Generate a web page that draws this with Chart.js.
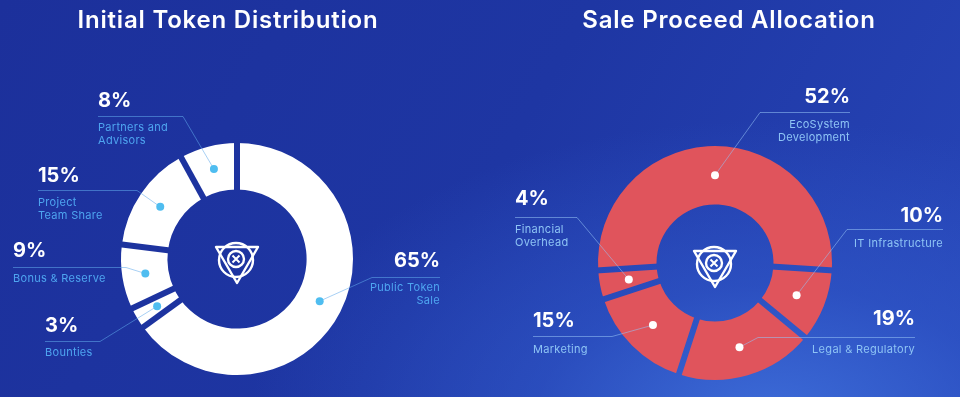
<!DOCTYPE html>
<html>
<head>
<meta charset="utf-8">
<script src="https://cdn.jsdelivr.net/npm/chart.js@4.4.0/dist/chart.umd.min.js"></script>
<style>
  html, body { margin: 0; padding: 0; }
  body {
    width: 960px; height: 397px; overflow: hidden; position: relative;
    background:
      radial-gradient(ellipse 520px 300px at 770px 420px, rgba(62,110,218,0.95) 0%, rgba(50,92,206,0.55) 45%, rgba(30,52,160,0) 100%),
      linear-gradient(120deg, #1c309b 0%, #1e36a3 50%, #2746b8 100%);
  }
  canvas { position: absolute; top: 0; }
  #tokenChart { left: 0; }
  #saleChart { left: 480px; }
</style>
</head>
<body>
<canvas id="tokenChart" width="480" height="397"></canvas>
<canvas id="saleChart" width="480" height="397"></canvas>
<script>
// data
const tokenLabels = [['Public Token', 'Sale'], ['Bounties'], ['Bonus & Reserve'], ['Project', 'Team Share'], ['Partners and', 'Advisors']];
const tokenValues = [65, 3, 9, 15, 8];
const saleLabels = [['EcoSystem', 'Development'], ['IT Infrastructure'], ['Legal & Regulatory'], ['Marketing'], ['Financial', 'Overhead']];
const saleValues = [52, 10, 19, 15, 4];

// where each callout text sits (canvas px), one per slice
const tokenSpots = [
  {x: 440, align: 'right', pctY: 267, lineY: 277, elbow: 372, subY: 291},
  {x: 45,  align: 'left',  pctY: 332, lineY: 341, elbow: 100, subY: 356},
  {x: 13,  align: 'left',  pctY: 257, lineY: 267, elbow: 126, subY: 282},
  {x: 38,  align: 'left',  pctY: 182, lineY: 190, elbow: 137, subY: 206},
  {x: 98,  align: 'left',  pctY: 107, lineY: 116, elbow: 183, subY: 131}
];
const saleSpots = [
  {x: 370, align: 'right', pctY: 103, lineY: 112, elbow: 280, subY: 128},
  {x: 463, align: 'right', pctY: 222, lineY: 229, elbow: 367, subY: 247},
  {x: 435, align: 'right', pctY: 325, lineY: 337, elbow: 278, subY: 353},
  {x: 53,  align: 'left',  pctY: 327, lineY: 336, elbow: 132, subY: 353},
  {x: 35,  align: 'left',  pctY: 205, lineY: 217, elbow: 97,  subY: 233}
];

function drawLogo(ctx, cx, cy) {
  ctx.save();
  ctx.strokeStyle = '#ffffff';
  ctx.lineWidth = 2.4;
  ctx.lineJoin = 'round';
  ctx.beginPath();
  ctx.moveTo(cx - 21, cy - 14);
  ctx.lineTo(cx + 21, cy - 14);
  ctx.lineTo(cx, cy + 22);
  ctx.closePath();
  ctx.stroke();
  ctx.beginPath();
  ctx.arc(cx - 1, cy - 1, 17, 0, Math.PI * 2);
  ctx.stroke();
  ctx.beginPath();
  ctx.arc(cx - 1, cy - 2, 8, 0, Math.PI * 2);
  ctx.stroke();
  ctx.lineWidth = 2;
  ctx.beginPath();
  ctx.moveTo(cx - 4.5, cy - 5.5); ctx.lineTo(cx + 2.5, cy + 1.5);
  ctx.moveTo(cx + 2.5, cy - 5.5); ctx.lineTo(cx - 4.5, cy + 1.5);
  ctx.stroke();
  ctx.restore();
}

const calloutPlugin = {
  id: 'callouts',
  // cut straight gaps between the slices
  afterDatasetsDraw(chart, args, opts) {
    const ctx = chart.ctx;
    const arcs = chart.getDatasetMeta(0).data;
    ctx.save();
    ctx.globalCompositeOperation = 'destination-out';
    ctx.lineWidth = opts.gap;
    arcs.forEach(function(a) {
      const ang = a.startAngle;
      ctx.beginPath();
      ctx.moveTo(a.x + Math.cos(ang) * (a.innerRadius - 2), a.y + Math.sin(ang) * (a.innerRadius - 2));
      ctx.lineTo(a.x + Math.cos(ang) * (a.outerRadius + 2), a.y + Math.sin(ang) * (a.outerRadius + 2));
      ctx.stroke();
    });
    ctx.restore();
  },
  afterDraw(chart, args, opts) {
    const ctx = chart.ctx;
    const meta = chart.getDatasetMeta(0);
    const values = chart.data.datasets[0].data;
    const labels = chart.data.labels;
    ctx.save();
    ctx.fillStyle = '#ffffff';
    ctx.font = '600 24px Inter, "Open Sans", sans-serif';
    ctx.letterSpacing = '0.8px';
    ctx.textAlign = 'center';
    ctx.textBaseline = 'alphabetic';
    ctx.fillText(opts.title, opts.titleX, 28);
    ctx.letterSpacing = '0px';

    opts.spots.forEach(function(s, i) {
      const p = meta.data[i].tooltipPosition();
      // leader line
      ctx.strokeStyle = opts.lineColor;
      ctx.lineWidth = 1;
      ctx.beginPath();
      ctx.moveTo(s.x, s.lineY + 0.5);
      ctx.lineTo(s.elbow, s.lineY + 0.5);
      ctx.lineTo(p.x, p.y);
      ctx.stroke();
      // dot
      ctx.fillStyle = opts.dotColor;
      ctx.beginPath();
      ctx.arc(p.x, p.y, 4, 0, Math.PI * 2);
      ctx.fill();
      // percentage
      ctx.textAlign = s.align;
      ctx.fillStyle = '#ffffff';
      ctx.font = '700 20px Inter, "Open Sans", sans-serif';
      ctx.fillText(values[i] + '%', s.x, s.pctY);
      // label lines
      ctx.fillStyle = opts.textColor;
      ctx.font = '400 11px Inter, "Open Sans", sans-serif';
      ctx.letterSpacing = '0.3px';
      labels[i].forEach(function(line, k) {
        ctx.fillText(line, s.x, s.subY + k * 13);
      });
      ctx.letterSpacing = '0px';
    });
    drawLogo(ctx, (chart.chartArea.left + chart.chartArea.right) / 2, (chart.chartArea.top + chart.chartArea.bottom) / 2 + 2);
    ctx.restore();
  }
};

Chart.register(calloutPlugin);

new Chart(document.getElementById('tokenChart'), {
  type: 'doughnut',
  data: {
    labels: tokenLabels,
    datasets: [{
      data: tokenValues,
      backgroundColor: '#ffffff',
      borderWidth: 0
    }]
  },
  options: {
    responsive: false,
    animation: false,
    rotation: 0,
    radius: 116,
    cutout: '60%',
    layout: { padding: {left: 121, right: 127, top: 143, bottom: 22} },
    plugins: {
      legend: { display: false },
      tooltip: { enabled: false },
      callouts: {
        title: 'Initial Token Distribution', titleX: 228,
        spots: tokenSpots,
        gap: 6,
        dotColor: '#4fbdf0',
        lineColor: 'rgba(96,170,235,0.55)',
        textColor: '#4ea5f0'
      }
    }
  }
});

new Chart(document.getElementById('saleChart'), {
  type: 'doughnut',
  data: {
    labels: saleLabels,
    datasets: [{
      data: saleValues,
      backgroundColor: '#e0545c',
      borderWidth: 0
    }]
  },
  options: {
    responsive: false,
    animation: false,
    rotation: -93.6,
    radius: 117,
    cutout: '50%',
    layout: { padding: {left: 118, right: 128, top: 146, bottom: 17} },
    plugins: {
      legend: { display: false },
      tooltip: { enabled: false },
      callouts: {
        title: 'Sale Proceed Allocation', titleX: 249,
        spots: saleSpots,
        gap: 6,
        dotColor: '#ffffff',
        lineColor: 'rgba(150,195,245,0.55)',
        textColor: '#8ec4f5'
      }
    }
  }
});
</script>
</body>
</html>
